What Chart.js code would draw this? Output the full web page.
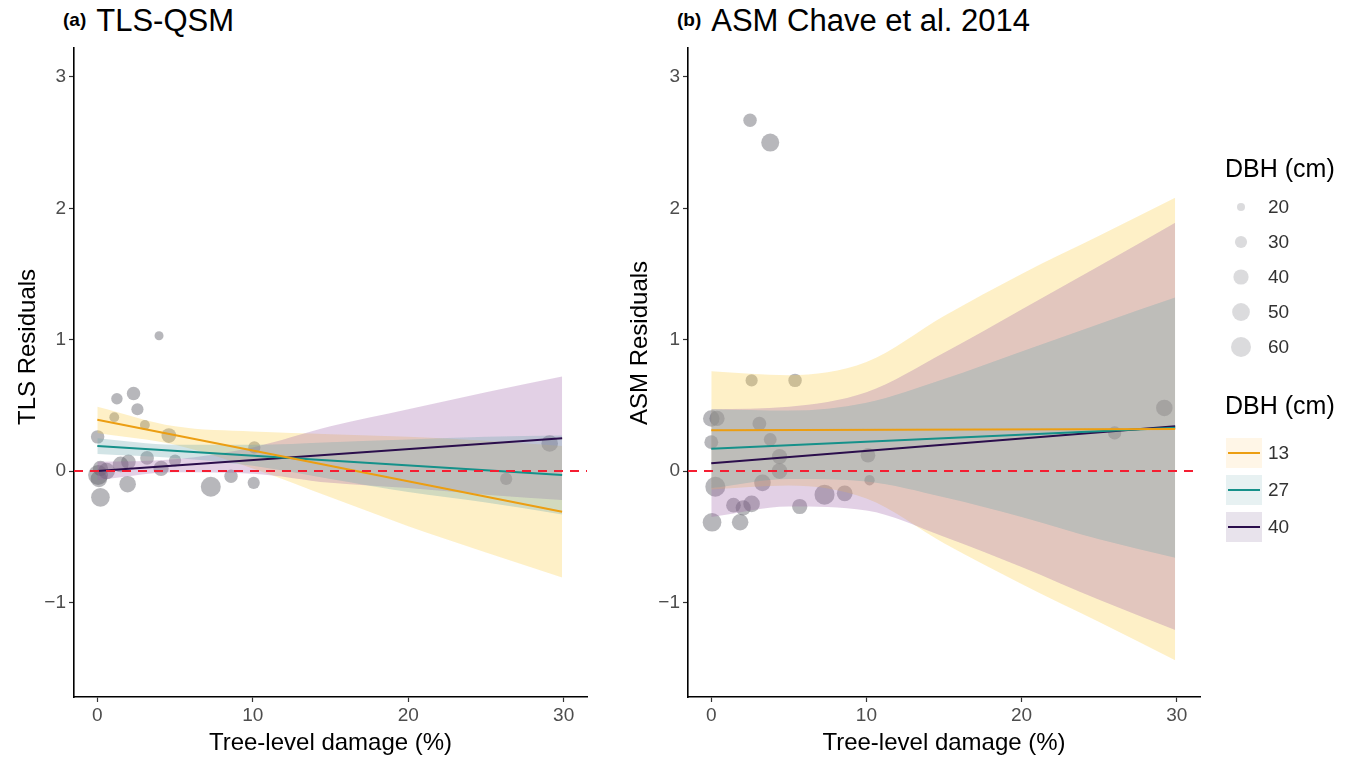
<!DOCTYPE html>
<html>
<head>
<meta charset="utf-8">
<script src="https://cdn.jsdelivr.net/npm/chart.js@4.4.1/dist/chart.umd.min.js"></script>
<style>
  body { margin: 0; background: #fff; width: 1354px; height: 760px; overflow: hidden; position: relative; font-family: "Liberation Sans", Arial, sans-serif; }
  canvas { position: absolute; top: 0; }
  #cLeft { left: 0; }
  #cRight { left: 610px; }
  .ttl { position: absolute; top: 3px; white-space: nowrap; color: #000; }
  .ttl b { font-size: 19px; margin-right: 10px; position: relative; top: -5px; }
  .ttl span { font-size: 31px; }
</style>
</head>
<body>
<div class="ttl" style="left:63px"><b>(a)</b><span>TLS-QSM</span></div>
<div class="ttl" style="left:677px"><b>(b)</b><span>ASM Chave et al. 2014</span></div>
<canvas id="cLeft" width="610" height="760"></canvas>
<canvas id="cRight" width="744" height="760"></canvas>
<script>
// axes
const xTicks = [0, 10, 20, 30];
const yTicks = [-1, 0, 1, 2, 3];
const dbhLegend = [20, 30, 40, 50, 60];
const groupLabels = ['13', '27', '40'];

// x positions where the confidence bands were read, and the fit line ends
const bandX = [0, 5, 10, 15, 20, 25, 29.9];
const fitX = [0, 29.9];

// (a) TLS-QSM residuals
const tlsDamage = [3.97, 2.33, 1.26, 2.58, 3.06, 1.09, 0.02, 4.6, 0.05, 0.1, 0.2, 0.2, 1.95, 7.3, 10.06, 8.6, 4.1, 3.2, 2.0, 10.1, 29.1, 26.3, 1.5, 5.0, 0.6];
const tlsResid  = [1.03, 0.59, 0.55, 0.47, 0.35, 0.41, 0.26, 0.27, -0.03, -0.06, 0.02, -0.2, -0.1, -0.12, -0.09, -0.04, 0.02, 0.1, 0.07, 0.18, 0.21, -0.06, 0.05, 0.08, 0.0];
const tlsDbh    = [22, 34, 28, 30, 24, 24, 34, 38, 60, 45, 40, 54, 45, 60, 30, 34, 40, 35, 38, 30, 45, 30, 42, 30, 45];

const tlsFit13 = [0.39, -0.31];
const tlsFit27 = [0.19, -0.03];
const tlsFit40 = [0.0, 0.25];
const tlsHi13 = [0.49, 0.34, 0.30, 0.28, 0.26, 0.23, 0.19];
const tlsLo13 = [0.29, 0.20, 0.02, -0.20, -0.42, -0.62, -0.81];
const tlsHi27 = [0.25, 0.20, 0.20, 0.22, 0.24, 0.26, 0.27];
const tlsLo27 = [0.13, 0.10, 0.04, -0.06, -0.16, -0.24, -0.33];
const tlsHi40 = [0.07, 0.09, 0.18, 0.34, 0.47, 0.60, 0.72];
const tlsLo40 = [-0.07, -0.01, -0.02, -0.09, -0.13, -0.18, -0.22];

// (b) ASM Chave et al. 2014 residuals
const asmDamage = [2.5, 3.8, 2.6, 5.4, 0.0, 0.37, 0.0, 3.1, 3.8, 4.4, 4.4, 3.3, 0.26, 1.43, 2.6, 2.06, 0.05, 1.86, 5.7, 7.3, 8.6, 10.1, 10.2, 29.2, 26.0];
const asmResid  = [2.67, 2.5, 0.69, 0.69, 0.4, 0.4, 0.22, 0.36, 0.24, 0.11, 0.0, -0.09, -0.12, -0.26, -0.25, -0.28, -0.39, -0.39, -0.27, -0.18, -0.17, 0.12, -0.07, 0.48, 0.29];
const asmDbh    = [34, 51, 30, 34, 45, 40, 35, 35, 32, 40, 42, 45, 60, 38, 45, 40, 54, 45, 40, 60, 42, 38, 25, 45, 33];

const asmFit13 = [0.31, 0.32];
const asmFit27 = [0.17, 0.33];
const asmFit40 = [0.06, 0.34];
const asmHi13 = [0.76, 0.73, 0.83, 1.18, 1.50, 1.79, 2.08];
const asmLo13 = [-0.14, -0.11, -0.21, -0.55, -0.86, -1.15, -1.44];
const asmHi27 = [0.47, 0.46, 0.52, 0.70, 0.91, 1.12, 1.32];
const asmLo27 = [-0.13, -0.06, -0.08, -0.20, -0.35, -0.52, -0.66];
const asmHi40 = [0.47, 0.49, 0.60, 0.90, 1.23, 1.56, 1.89];
const asmLo40 = [-0.35, -0.27, -0.30, -0.50, -0.73, -0.98, -1.21];

const FONT = '"Liberation Sans", Arial, sans-serif';
const lineCols = ['#EC9E12', '#16918A', '#2B0E4C'];
const fillCols = ['rgba(253,205,70,0.3)', 'rgba(105,165,172,0.3)', 'rgba(160,100,170,0.3)'];
const keyFills = ['rgba(253,205,120,0.18)', 'rgba(105,165,172,0.16)', 'rgba(130,100,150,0.18)'];
const pointCol = 'rgba(95,95,105,0.45)';

function dotRadius(dbh) {
  return Math.sqrt(2.1 * dbh - 26);
}

function pts(xs, ys) {
  return xs.map((x, i) => ({ x: x, y: ys[i] }));
}

// red dashed zero line across the panel
const zeroLine = {
  id: 'zeroLine',
  afterDatasetsDraw(chart) {
    const { ctx, chartArea } = chart;
    const y = chart.scales.y.getPixelForValue(0);
    ctx.save();
    ctx.strokeStyle = '#F51E32';
    ctx.lineWidth = 2;
    ctx.setLineDash([9, 7]);
    ctx.beginPath();
    ctx.moveTo(chartArea.left, y);
    ctx.lineTo(chartArea.right, y);
    ctx.stroke();
    ctx.restore();
  }
};

// y title, sits a little above the panel centre like the original
const yTitle = {
  id: 'yTitle',
  afterDraw(chart, args, opts) {
    const ctx = chart.ctx;
    ctx.save();
    ctx.translate(opts.x, opts.y);
    ctx.rotate(-Math.PI / 2);
    ctx.font = '24px ' + FONT;
    ctx.fillStyle = '#000';
    ctx.textAlign = 'left';
    ctx.textBaseline = 'middle';
    ctx.fillText(opts.text, 0, 0);
    ctx.restore();
  }
};

// legend drawn to the right of panel (b)
const sideLegend = {
  id: 'sideLegend',
  afterDraw(chart) {
    const ctx = chart.ctx;
    const x0 = 615;
    ctx.save();
    ctx.textBaseline = 'middle';
    ctx.fillStyle = '#000';
    ctx.font = '25px ' + FONT;
    ctx.fillText('DBH (cm)', x0, 170);
    ctx.font = '19px ' + FONT;
    dbhLegend.forEach((d, i) => {
      const y = 207 + i * 35;
      ctx.fillStyle = 'rgba(175,175,180,0.45)';
      ctx.beginPath();
      ctx.arc(x0 + 16, y, dotRadius(d), 0, Math.PI * 2);
      ctx.fill();
      ctx.fillStyle = '#333';
      ctx.fillText(String(d), x0 + 43, y + 1);
    });
    ctx.fillStyle = '#000';
    ctx.font = '25px ' + FONT;
    ctx.fillText('DBH (cm)', x0, 407);
    ctx.font = '19px ' + FONT;
    groupLabels.forEach((g, i) => {
      const y = 453 + i * 37;
      ctx.fillStyle = keyFills[i];
      ctx.fillRect(x0 + 1, y - 15, 36, 30);
      ctx.strokeStyle = lineCols[i];
      ctx.lineWidth = 2;
      ctx.beginPath();
      ctx.moveTo(x0 + 3, y);
      ctx.lineTo(x0 + 35, y);
      ctx.stroke();
      ctx.fillStyle = '#333';
      ctx.fillText(g, x0 + 43, y + 1);
    });
    ctx.restore();
  }
};

function makeChart(id, cfg) {
  const datasets = [];
  // confidence bands; same order value, so the first one listed ends up on top
  [[cfg.hi[1], cfg.lo[1], 1], [cfg.hi[2], cfg.lo[2], 2], [cfg.hi[0], cfg.lo[0], 0]].forEach(b => {
    datasets.push({
      type: 'line', data: pts(bandX, b[0]), fill: '+1', backgroundColor: fillCols[b[2]],
      borderWidth: 0, pointRadius: 0, cubicInterpolationMode: 'monotone', order: 2
    });
    datasets.push({
      type: 'line', data: pts(bandX, b[1]), fill: false,
      borderWidth: 0, pointRadius: 0, cubicInterpolationMode: 'monotone', order: 2
    });
  });
  // points, under the bands
  datasets.push({
    type: 'scatter', data: pts(cfg.damage, cfg.resid),
    backgroundColor: pointCol, borderWidth: 0,
    pointRadius: c => dotRadius(cfg.dbh[c.dataIndex]), order: 3
  });
  // fitted lines
  cfg.fits.forEach((f, i) => {
    datasets.push({
      type: 'line', data: pts(fitX, f), borderColor: lineCols[i], borderWidth: 2,
      pointRadius: 0, fill: false, order: 1
    });
  });

  return new Chart(document.getElementById(id), {
    type: 'scatter',
    data: { datasets: datasets },
    plugins: cfg.plugins,
    options: {
      responsive: false,
      animation: false,
      layout: { padding: { left: 0, right: cfg.padRight, top: 48, bottom: 0 } },
      plugins: {
        legend: { display: false }, tooltip: { enabled: false },
        filler: { drawTime: 'beforeDatasetDraw' },
        yTitle: { text: cfg.yTitle, x: cfg.yTitleX, y: 425 }
      },
      scales: {
        x: {
          type: 'linear', min: -1.5, max: 31.5,
          afterBuildTicks: s => { s.ticks = xTicks.map(v => ({ value: v })); },
          afterFit: s => { s.height = 63; },
          grid: { drawOnChartArea: false, drawTicks: true, tickLength: 5, tickColor: '#333', tickWidth: 1.2 },
          border: { display: true, color: '#000', width: 1.6 },
          ticks: { color: '#4d4d4d', font: { family: FONT, size: 19 }, padding: 2, maxRotation: 0 },
          title: { display: true, text: 'Tree-level damage (%)', color: '#000', font: { family: FONT, size: 24 }, padding: { bottom: 2 } }
        },
        y: {
          type: 'linear', min: -1.72, max: 3.22,
          afterBuildTicks: s => { s.ticks = yTicks.map(v => ({ value: v })); },
          afterFit: s => { s.width = cfg.yWidth; },
          grid: { drawOnChartArea: false, drawTicks: true, tickLength: 5, tickColor: '#333', tickWidth: 1.2 },
          border: { display: true, color: '#000', width: 1.6 },
          ticks: { color: '#4d4d4d', font: { family: FONT, size: 19 }, padding: 3,
            callback: v => v < 0 ? '\u2212' + Math.abs(v) : String(v) }
        }
      }
    }
  });
}

makeChart('cLeft', {
  damage: tlsDamage, resid: tlsResid, dbh: tlsDbh,
  fits: [tlsFit13, tlsFit27, tlsFit40],
  hi: [tlsHi13, tlsHi27, tlsHi40], lo: [tlsLo13, tlsLo27, tlsLo40],
  yTitle: 'TLS Residuals', yTitleX: 28, yWidth: 74, padRight: 23,
  plugins: [zeroLine, yTitle]
});

makeChart('cRight', {
  damage: asmDamage, resid: asmResid, dbh: asmDbh,
  fits: [asmFit13, asmFit27, asmFit40],
  hi: [asmHi13, asmHi27, asmHi40], lo: [asmLo13, asmLo27, asmLo40],
  yTitle: 'ASM Residuals', yTitleX: 30, yWidth: 78, padRight: 154,
  plugins: [zeroLine, yTitle, sideLegend]
});
</script>
</body>
</html>
